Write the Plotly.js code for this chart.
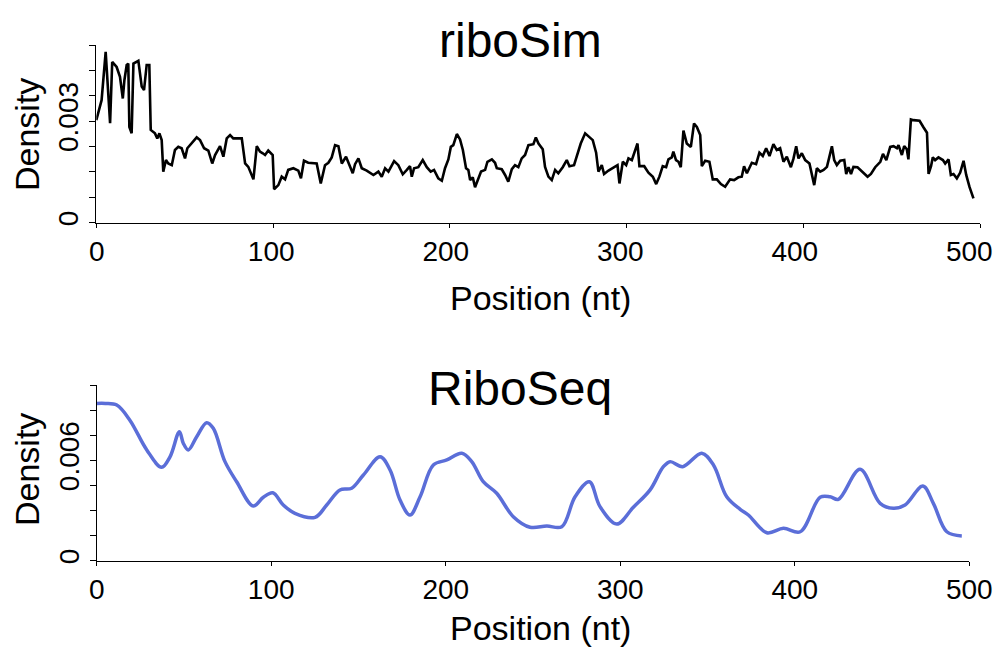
<!DOCTYPE html>
<html>
<head>
<meta charset="utf-8">
<script src="https://cdn.plot.ly/plotly-3.0.1.min.js"></script>
<style>html,body{margin:0;padding:0;background:#fff;}#chart{width:997px;height:649px;}</style>
</head>
<body>
<div id="chart"></div>
<script>
// riboSim (top panel)
const simPos = [0,3,5.3,7.8,9,11.5,13.4,15,15.9,17.2,18.1,18.7,20,21,23.8,25.7,27,28.5,30,30.8,33.2,34.5,35.7,37,37.9,39.4,40.7,42.7,44.5,46.4,48.3,50.2,51.5,54,56.8,58.7,61,63.4,65.6,67.2,70,71.9,73.8,75.7,77.5,82.3,84.2,86,88.9,90.8,92.6,94.2,95.5,97.3,99.8,100.6,103,104.9,106.8,108.6,111.5,114.3,115.8,117.5,119.9,124.7,127,129.4,131.3,133.2,135.1,137,138.9,141.3,143.2,145.1,146.4,148.3,150.2,153,156.8,159.6,161.5,163.4,165.3,168.5,170.9,173.4,175.7,177.5,178.5,179.8,182.2,184.7,187,189.2,191.1,193.5,195.5,197.3,199.2,200.6,202,204,205.8,207.4,209.2,210.5,211.5,213,214.3,216.2,217.7,220,221.3,223.8,225.6,226.6,229.4,231.3,233.1,235.1,236.9,238.8,240.7,242.6,244.5,247.3,248.7,250.2,252.6,253.9,255.8,257.7,259.6,261.4,263.9,266.2,267.7,270.3,272.2,274.1,276.6,279,280.9,282.8,284.1,286,287.3,289.8,292.6,294.9,296,297.9,299.8,301.1,303,303.9,306.2,307.3,310,312.4,314.9,316.8,318.6,320.5,322.4,323.7,325.6,326.5,328,329.4,330.7,332.2,334.1,336.4,338.2,339.8,341.7,342.6,344.5,346.9,348.8,351.1,353.4,355.8,358.6,360.9,363.3,365.2,366.5,368.1,370.9,373.3,375.2,377.1,379,380.9,383.1,385,386.9,388.8,390.7,393,394.5,396,397.3,399.2,401.1,403.5,404.9,406.2,407.7,409.6,411.5,413.4,414.7,416.2,417.5,419,420.9,423.2,424.3,425.6,427,428.4,430.7,433.2,436.4,438.3,440.7,443.6,445.1,447,449.2,451.1,453,453.9,455.8,457.1,458.6,459.5,460.9,462.4,463.9,465.8,468,470,470.9,472.3,473.3,474.6,476.5,479,480.3,482.2,483.5,485,486.9,488.8,490.7,492.2,494.1,496.3];
const simDensity = [0.00303,0.00362,0.00505,0.00294,0.00475,0.0046,0.00431,0.00367,0.00421,0.00466,0.0047,0.00283,0.00264,0.0047,0.00478,0.00402,0.00392,0.00466,0.00466,0.00274,0.00264,0.00249,0.00264,0.00244,0.00151,0.00185,0.00175,0.0017,0.00215,0.00224,0.0022,0.0019,0.0022,0.00234,0.00252,0.00244,0.0022,0.00213,0.00175,0.002,0.00226,0.00195,0.00249,0.00259,0.00249,0.00249,0.00175,0.00165,0.00128,0.00226,0.0021,0.00205,0.002,0.00213,0.002,0.00099,0.00111,0.00136,0.00128,0.00156,0.00161,0.00154,0.00131,0.00183,0.00177,0.00175,0.00116,0.0017,0.00177,0.00193,0.00229,0.00226,0.00175,0.00195,0.0017,0.00146,0.00173,0.0019,0.00161,0.00154,0.00141,0.00151,0.00136,0.00161,0.00151,0.00182,0.0017,0.00143,0.00156,0.00167,0.00136,0.00161,0.00164,0.00185,0.00164,0.00151,0.00156,0.00131,0.00124,0.00161,0.00187,0.00224,0.00229,0.00262,0.00246,0.00215,0.00161,0.00156,0.00126,0.00134,0.00105,0.00131,0.00151,0.00156,0.0018,0.00187,0.00177,0.00161,0.00158,0.00141,0.00121,0.00158,0.0017,0.00164,0.0019,0.002,0.00229,0.00232,0.00252,0.00234,0.00217,0.00165,0.00136,0.00126,0.00156,0.00146,0.00164,0.00185,0.00167,0.0017,0.002,0.00234,0.00264,0.00252,0.00244,0.00207,0.00151,0.0017,0.00144,0.00154,0.00164,0.0017,0.00116,0.0018,0.0017,0.0019,0.00185,0.002,0.00234,0.00167,0.00167,0.00148,0.00136,0.00114,0.00136,0.00167,0.00164,0.00187,0.00193,0.0021,0.00185,0.0018,0.00164,0.00272,0.00234,0.00224,0.00293,0.00283,0.00259,0.00167,0.00183,0.0018,0.00128,0.00128,0.00114,0.00106,0.00128,0.00126,0.00134,0.00136,0.00167,0.00146,0.00177,0.00173,0.00207,0.00197,0.0022,0.00197,0.00232,0.00215,0.0022,0.0018,0.00195,0.00164,0.0019,0.00226,0.0019,0.00205,0.00185,0.00175,0.00146,0.00111,0.00161,0.00151,0.00156,0.00165,0.00193,0.00226,0.00185,0.0017,0.00183,0.00185,0.00144,0.00164,0.00144,0.00165,0.00164,0.00151,0.00136,0.00144,0.00164,0.0018,0.00203,0.00185,0.00224,0.00226,0.0022,0.00229,0.002,0.00226,0.00217,0.00187,0.00305,0.00303,0.00303,0.00301,0.00282,0.00266,0.00144,0.00167,0.00193,0.00185,0.00193,0.00185,0.00175,0.00187,0.00141,0.00144,0.00131,0.00148,0.00183,0.00141,0.00105,0.00072];

// RiboSeq (bottom panel)
const seqPos = [0,5,11.5,19,28.7,37.2,42,47.4,49.6,52.5,57.3,63,66.8,73.5,80.2,89.7,95.5,100.9,106.9,113.6,125.1,131.8,139.4,146.1,152.8,162.4,168.1,173.8,179.5,185.3,192.9,200.6,209.2,214.9,221.5,229.2,238.7,248.3,257.9,266.5,274.1,282.3,288.4,298,307.5,317.1,324.7,328.6,335.8,346.7,353.4,361,368.7,373.4,384,393.5,403.1,414.5,420.2,425,437.4,448.9,456.5,463.2,473.4,479.4,487.1,495.7];
const seqDensity = [0.0094,0.0094,0.0093,0.0084,0.00662,0.00558,0.00621,0.00771,0.00702,0.00662,0.00741,0.00825,0.00791,0.00592,0.00472,0.00327,0.00379,0.00406,0.00333,0.00283,0.00259,0.00333,0.00423,0.00433,0.00512,0.00621,0.00542,0.00363,0.00273,0.00382,0.00572,0.00602,0.00642,0.00592,0.00472,0.00403,0.00263,0.002,0.00207,0.00203,0.00382,0.00472,0.00323,0.00219,0.00319,0.00423,0.00562,0.00592,0.00562,0.00642,0.00572,0.00382,0.00307,0.00273,0.00167,0.00194,0.00173,0.00379,0.00382,0.00367,0.00546,0.00343,0.00313,0.00333,0.00446,0.00343,0.00173,0.00148];

const xTicks = [0,100,200,300,400,500];
const simYTicks = [0,0.00075,0.0015,0.00225,0.003,0.00375,0.0045,0.00525];
const simYLabels = ['0','','','','0.003','','',''];
const seqYTicks = [0,0.0015,0.003,0.0045,0.006,0.0075,0.009,0.0105];
const seqYLabels = ['0','','','','0.006','','',''];

const FONT = 'Liberation Sans, Arial, Helvetica, sans-serif';
const W = 997, H = 649;
const px = v => v / W;
const py = v => 1 - v / H;

const traces = [
  {x: simPos, y: simDensity, xaxis: 'x', yaxis: 'y', type: 'scatter', mode: 'lines',
   line: {color: '#000000', width: 2.6}, hoverinfo: 'skip'},
  {x: seqPos, y: seqDensity, xaxis: 'x2', yaxis: 'y2', type: 'scatter', mode: 'lines',
   line: {color: '#5b6ed8', width: 3.5, shape: 'spline', smoothing: 1}, hoverinfo: 'skip'},
  // carrier for the top panel's tick-label axis
  {x: [], y: [], xaxis: 'x3', yaxis: 'y', type: 'scatter', mode: 'lines', hoverinfo: 'skip'}
];

function xAxis(domain, anchor) {
  return {domain: domain, anchor: anchor, range: [0, 500], tickvals: xTicks, ticktext: xTicks.map(String),
    ticks: 'outside', ticklen: 4, tickwidth: 1, tickcolor: '#000', showline: true, linecolor: '#000', linewidth: 1,
    showgrid: false, zeroline: false, tickfont: {family: FONT, size: 28, color: '#000'}, fixedrange: true,
    ticklabeloverflow: 'allow'};
}
function yAxis(domain, anchor, ticks, labels) {
  return {domain: domain, anchor: anchor, range: [0, ticks[ticks.length - 1]], tickvals: ticks, ticktext: labels,
    tickangle: -90, ticks: 'outside', ticklen: 6, tickwidth: 1, tickcolor: '#000', showline: true, linecolor: '#000', linewidth: 1,
    showgrid: false, zeroline: false, tickfont: {family: FONT, size: 28, color: '#000'}, fixedrange: true};
}

const topX = xAxis([px(96.3), px(980)], 'y');
topX.showticklabels = false;
const topXLabels = xAxis([px(96.7), px(969.3)], 'y');
topXLabels.showline = false;
topXLabels.tickcolor = 'rgba(0,0,0,0)';

const layout = {
  width: W, height: H, margin: {l: 0, r: 0, t: 0, b: 0}, showlegend: false,
  paper_bgcolor: '#fff', plot_bgcolor: 'rgba(0,0,0,0)',
  xaxis: topX,
  yaxis: yAxis([py(222.7), py(45)], 'x', simYTicks, simYLabels),
  xaxis2: xAxis([px(96.7), px(969.3)], 'y2'),
  yaxis2: yAxis([py(560.7), py(385)], 'x2', seqYTicks, seqYLabels),
  xaxis3: topXLabels,
  annotations: [
    {text: 'riboSim', xref: 'paper', yref: 'paper', x: px(520), y: py(40), xanchor: 'center', yanchor: 'middle', showarrow: false, font: {family: FONT, size: 48, color: '#000'}},
    {text: 'RiboSeq', xref: 'paper', yref: 'paper', x: px(520), y: py(388), xanchor: 'center', yanchor: 'middle', showarrow: false, font: {family: FONT, size: 48, color: '#000'}},
    {text: 'Position (nt)', xref: 'paper', yref: 'paper', x: px(540), y: py(298), xanchor: 'center', yanchor: 'middle', showarrow: false, font: {family: FONT, size: 34, color: '#000'}},
    {text: 'Position (nt)', xref: 'paper', yref: 'paper', x: px(540), y: py(628), xanchor: 'center', yanchor: 'middle', showarrow: false, font: {family: FONT, size: 34, color: '#000'}},
    {text: 'Density', xref: 'paper', yref: 'paper', x: px(27), y: py(135), xanchor: 'center', yanchor: 'middle', textangle: -90, showarrow: false, font: {family: FONT, size: 34, color: '#000'}},
    {text: 'Density', xref: 'paper', yref: 'paper', x: px(27), y: py(470), xanchor: 'center', yanchor: 'middle', textangle: -90, showarrow: false, font: {family: FONT, size: 34, color: '#000'}}
  ]
};

Plotly.newPlot('chart', traces, layout, {displayModeBar: false, staticPlot: true});
</script>
</body>
</html>
